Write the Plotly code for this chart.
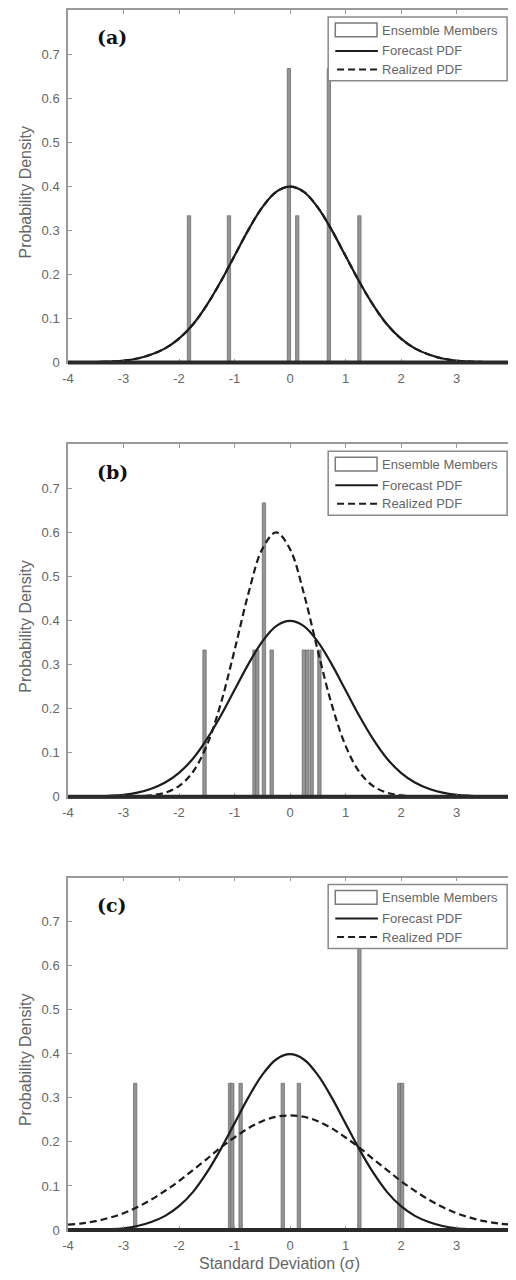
import plotly.graph_objects as go
from plotly.subplots import make_subplots

# ---------------- data ----------------
x_grid = [-4.0, -3.75, -3.5, -3.25, -3.0, -2.75, -2.5, -2.25, -2.0, -1.75, -1.5, -1.25,
          -1.0, -0.75, -0.5, -0.25, 0.0, 0.25, 0.5, 0.75, 1.0, 1.25, 1.5, 1.75,
          2.0, 2.25, 2.5, 2.75, 3.0, 3.25, 3.5, 3.75, 4.0]

forecast_pdf = [0.000, 0.000, 0.001, 0.002, 0.004, 0.009, 0.018, 0.032, 0.054, 0.086, 0.130, 0.183,
                0.242, 0.301, 0.352, 0.387, 0.399, 0.387, 0.352, 0.301, 0.242, 0.183, 0.130, 0.086,
                0.054, 0.032, 0.018, 0.009, 0.004, 0.002, 0.001, 0.000, 0.000]

realized_pdf_a = [0.000, 0.000, 0.001, 0.002, 0.004, 0.009, 0.018, 0.032, 0.054, 0.086, 0.130, 0.183,
                  0.242, 0.301, 0.352, 0.387, 0.399, 0.387, 0.352, 0.301, 0.242, 0.183, 0.130, 0.086,
                  0.054, 0.032, 0.018, 0.009, 0.004, 0.002, 0.001, 0.000, 0.000]

realized_pdf_b = [0.000, 0.000, 0.000, 0.000, 0.000, 0.001, 0.003, 0.009, 0.024, 0.056, 0.116, 0.210,
                  0.332, 0.461, 0.562, 0.600, 0.562, 0.461, 0.332, 0.210, 0.116, 0.056, 0.024, 0.009,
                  0.003, 0.001, 0.000, 0.000, 0.000, 0.000, 0.000, 0.000, 0.000]

realized_pdf_c = [0.012, 0.015, 0.020, 0.028, 0.038, 0.052, 0.069, 0.089, 0.111, 0.136, 0.161, 0.187,
                  0.210, 0.231, 0.247, 0.257, 0.260, 0.257, 0.247, 0.231, 0.210, 0.187, 0.161, 0.136,
                  0.111, 0.089, 0.069, 0.052, 0.038, 0.028, 0.020, 0.015, 0.012]

members_a_x = [-1.82, -1.10, -0.02, 0.13, 0.70, 1.25]
members_a_y = [0.333, 0.333, 0.667, 0.333, 0.667, 0.333]

members_b_x = [-1.54, -0.64, -0.59, -0.47, -0.33, 0.25, 0.31, 0.39, 0.53]
members_b_y = [0.333, 0.333, 0.333, 0.667, 0.333, 0.333, 0.333, 0.333, 0.333]

members_c_x = [-2.79, -1.08, -1.04, -0.89, -0.13, 0.16, 1.25, 1.97, 2.02]
members_c_y = [0.333, 0.333, 0.333, 0.333, 0.333, 0.333, 0.667, 0.333, 0.333]

panel_labels = ["(a)", "(b)", "(c)"]
legend_labels = ["Ensemble Members", "Forecast PDF", "Realized PDF"]
x_ticks = [-4, -3, -2, -1, 0, 1, 2, 3, 4]
x_ticktext = ["-4", "-3", "-2", "-1", "0", "1", "2", "3", "4"]
y_ticks = [0, 0.1, 0.2, 0.3, 0.4, 0.5, 0.6, 0.7]
y_ticktext = ["0", "0.1", "0.2", "0.3", "0.4", "0.5", "0.6", "0.7"]
y_title = "Probability Density"
x_title = "Standard Deviation (\u03c3)"

panels = [
    (members_a_x, members_a_y, forecast_pdf, realized_pdf_a),
    (members_b_x, members_b_y, forecast_pdf, realized_pdf_b),
    (members_c_x, members_c_y, forecast_pdf, realized_pdf_c),
]

# ---------------- figure ----------------
# the page adds an 8px body margin; the figure is sized so the page does not scroll
W, H = 508, 1264
ML, MR, MT, MB = 60, 1, 0, 42
PW = W - ML - MR          # plot width in px (447)
PH = H - MT - MB          # plot height in px (1222)
SCREEN_LEFT = 68          # on-screen x of plot left edge
SCREEN_BOTTOM = 1230      # on-screen y of plot bottom edge
domains = [[0.7111, 1.0], [0.3552, 0.6440], [0.0, 0.2889]]

fig = make_subplots(rows=3, cols=1)

TXT = "#666666"
AX = "#9a9a9a"
CURVE = "#1c1c1c"
DASH = "7px,4px"

for i, (bx, by, fc, rc) in enumerate(panels):
    r = i + 1
    fig.add_trace(go.Bar(x=bx, y=by, width=0.06,
                         marker=dict(color="#949494", line=dict(color="#6f6f6f", width=0.8)),
                         showlegend=False), row=r, col=1)
    fig.add_trace(go.Scatter(x=x_grid, y=rc, mode="lines", line_shape="spline",
                             line=dict(color=CURVE, width=2.2, dash=DASH),
                             showlegend=False), row=r, col=1)
    fig.add_trace(go.Scatter(x=x_grid, y=fc, mode="lines", line_shape="spline",
                             line=dict(color=CURVE, width=2.2),
                             showlegend=False), row=r, col=1)

for i in range(3):
    r = i + 1
    fig.update_xaxes(row=r, col=1, range=[-4, 4], tickvals=x_ticks, ticktext=x_ticktext,
                     ticks="inside", ticklen=4, tickcolor=AX, tickwidth=1,
                     showline=True, linecolor=AX, linewidth=1.5, mirror="ticks",
                     showgrid=False, zeroline=False, ticklabelstandoff=3,
                     ticklabeloverflow="allow",
                     tickfont=dict(family="Liberation Sans, Arial", size=13, color=TXT))
    fig.update_yaxes(row=r, col=1, range=[0, 0.8], tickvals=y_ticks, ticktext=y_ticktext,
                     ticks="inside", ticklen=4, tickcolor=AX, tickwidth=1,
                     showline=True, linecolor=AX, linewidth=1.5, mirror="ticks",
                     showgrid=False, zeroline=False, ticklabelstandoff=4,
                     ticklabeloverflow="allow",
                     domain=domains[i],
                     tickfont=dict(family="Liberation Sans, Arial", size=13, color=TXT))

shapes = []
annotations = []
axis_names = ["", "2", "3"]
for i in range(3):
    xs = "x" + axis_names[i]
    ys = "y" + axis_names[i]
    xd = xs + " domain"
    yd = ys + " domain"
    # thick baseline at zero (paper coords so it is not clipped)
    shapes.append(dict(type="line", xref="paper", yref="paper", x0=0, x1=1,
                       y0=domains[i][0], y1=domains[i][0],
                       line=dict(color="#2a2a2a", width=4), layer="above"))
    # legend box
    shapes.append(dict(type="rect", xref=xd, yref=yd, x0=0.586, x1=0.989, y0=0.799, y1=0.980,
                       fillcolor="white", line=dict(color="#8a8a8a", width=1.5), layer="above"))
    shapes.append(dict(type="rect", xref=xd, yref=yd, x0=0.602, x1=0.696, y0=0.924, y1=0.963,
                       fillcolor="white", line=dict(color="#7a7a7a", width=1.5), layer="above"))
    shapes.append(dict(type="line", xref=xd, yref=yd, x0=0.602, x1=0.698, y0=0.884, y1=0.884,
                       line=dict(color=CURVE, width=2), layer="above"))
    shapes.append(dict(type="line", xref=xd, yref=yd, x0=0.606, x1=0.698, y0=0.831, y1=0.831,
                       line=dict(color=CURVE, width=2, dash=DASH), layer="above"))
    for lab, yy in zip(legend_labels, [0.943, 0.884, 0.831]):
        annotations.append(dict(text=lab, xref=xd, yref=yd, x=0.703, y=yy, xanchor="left",
                                yanchor="middle", showarrow=False,
                                font=dict(family="Liberation Sans, Arial", size=13, color=TXT)))
    # panel label
    annotations.append(dict(text="<b>" + panel_labels[i] + "</b>", xref=xd, yref=yd,
                            x=0.1, y=0.922, xanchor="center", yanchor="middle", showarrow=False,
                            font=dict(family="DejaVu Serif", size=19, color="#111111")))
    # y axis title
    annotations.append(dict(text=y_title, xref="paper", yref=yd, x=(25 - SCREEN_LEFT) / PW,
                            y=0.483, xanchor="center", yanchor="middle", textangle=-90,
                            showarrow=False,
                            font=dict(family="Liberation Sans, Arial", size=16, color=TXT)))

annotations.append(dict(text=x_title, xref="paper", yref="paper",
                        x=(281 - SCREEN_LEFT) / PW, y=(SCREEN_BOTTOM - 1264) / PH,
                        xanchor="center", yanchor="middle", showarrow=False,
                        font=dict(family="Liberation Sans, Arial", size=16, color=TXT)))

fig.update_layout(width=W, height=H, margin=dict(l=ML, r=MR, t=MT, b=MB),
                  paper_bgcolor="white", plot_bgcolor="white", barmode="overlay",
                  showlegend=False, shapes=shapes, annotations=annotations)

fig.write_html("out.html")
